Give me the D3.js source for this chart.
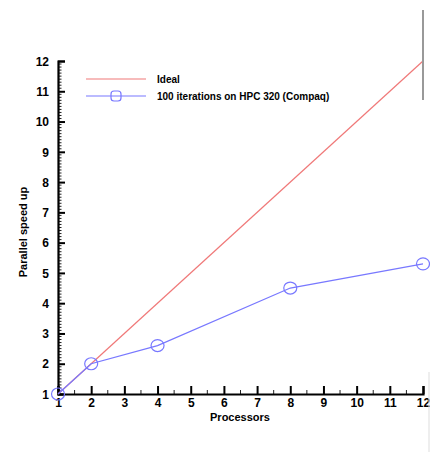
<!DOCTYPE html>
<html>
<head>
<meta charset="utf-8">
<script src="https://cdn.jsdelivr.net/npm/d3@7"></script>
<style>
  html, body { margin: 0; padding: 0; background: #fff; }
  svg { display: block; font-family: "Liberation Sans", Arial, sans-serif; }
</style>
</head>
<body>
<svg id="chart" width="430" height="452"></svg>
<script>
// Speed-up measurements
const processors = [1, 2, 4, 8, 12];
const speedup = [1, 2, 2.6, 4.5, 5.3];
const idealX = [1, 12];
const idealY = [1, 12];
const xTicks = [1, 2, 3, 4, 5, 6, 7, 8, 9, 10, 11, 12];
const yTicks = [1, 2, 3, 4, 5, 6, 7, 8, 9, 10, 11, 12];
const seriesNames = ["Ideal", "100 iterations on HPC 320 (Compaq)"];

const svg = d3.select("#chart");
const x = d3.scaleLinear().domain([1, 12]).range([58, 423]);
const y = d3.scaleLinear().domain([1, 12]).range([394, 61]);

const red = "#f07878";
const blue = "#7878ff";

// Minor ticks
const yMinor = d3.range(1, 12.001, 0.1).filter(v => Math.abs(v - Math.round(v)) > 1e-6);
const xMinor = d3.range(1.5, 12, 1);

svg.append("g").selectAll("line").data(yMinor).join("line")
  .attr("x1", x(1)).attr("x2", x(1) + 3.5)
  .attr("y1", d => y(d)).attr("y2", d => y(d))
  .attr("stroke", "#222").attr("stroke-width", 1);
svg.append("g").selectAll("line").data(xMinor).join("line")
  .attr("x1", d => x(d)).attr("x2", d => x(d))
  .attr("y1", y(1)).attr("y2", y(1) - 4)
  .attr("stroke", "#222").attr("stroke-width", 1);

// Major ticks via axes (drawn inward)
const yAxis = svg.append("g").attr("transform", `translate(${x(1)},0)`)
  .call(d3.axisLeft(y).tickValues(yTicks).tickSize(-7).tickPadding(9).tickFormat(d3.format("d")));
const xAxis = svg.append("g").attr("transform", `translate(0,${y(1)})`)
  .call(d3.axisBottom(x).tickValues(xTicks).tickSize(-8).tickPadding(13).tickFormat(d3.format("d")));

[yAxis, xAxis].forEach(g => {
  g.select(".domain").attr("stroke", "#000").attr("stroke-width", 2.2);
  g.selectAll(".tick line").attr("stroke", "#000").attr("stroke-width", 2);
  g.selectAll(".tick text").attr("fill", "#000")
    .attr("font-size", 12).attr("font-weight", "bold")
    .attr("font-family", "'Liberation Sans', Arial, sans-serif");
});
yAxis.selectAll(".tick text").attr("dy", "0.35em");
xAxis.selectAll(".tick text").attr("dy", "0");

// Axis titles
svg.append("text").attr("x", 240).attr("y", 421)
  .attr("text-anchor", "middle").attr("font-size", 11).attr("font-weight", "bold")
  .text("Processors");
svg.append("text").attr("transform", "translate(27,232) rotate(-90)")
  .attr("text-anchor", "middle").attr("font-size", 11).attr("font-weight", "bold")
  .text("Parallel speed up");

// Ideal line
const line = d3.line().x(d => x(d[0])).y(d => y(d[1]));
svg.append("path").datum(d3.zip(idealX, idealY)).attr("d", line)
  .attr("fill", "none").attr("stroke", red).attr("stroke-width", 1.2);

// Measured series
const pts = d3.zip(processors, speedup);
svg.append("path").datum(pts).attr("d", line)
  .attr("fill", "none").attr("stroke", blue).attr("stroke-width", 1.2);
svg.append("g").selectAll("ellipse").data(pts).join("ellipse")
  .attr("cx", d => x(d[0])).attr("cy", d => y(d[1]))
  .attr("rx", 6.5).attr("ry", 6)
  .attr("fill", "none").attr("stroke", blue).attr("stroke-width", 1.2);

// Legend
const legend = svg.append("g");
const rows = [{ name: seriesNames[0], color: red, marker: false, yy: 79 },
              { name: seriesNames[1], color: blue, marker: true, yy: 96 }];
rows.forEach(r => {
  legend.append("line").attr("x1", 86).attr("x2", 146).attr("y1", r.yy).attr("y2", r.yy)
    .attr("stroke", r.color).attr("stroke-width", 1.2);
  if (r.marker) {
    legend.append("rect").attr("x", 111).attr("y", r.yy - 5).attr("width", 10).attr("height", 10)
      .attr("rx", 3).attr("fill", "none").attr("stroke", r.color).attr("stroke-width", 1.2);
  }
  legend.append("text").attr("x", 157).attr("y", r.yy + 4)
    .attr("font-size", 10).attr("font-weight", "bold").text(r.name);
});

// Frame edge on the right
svg.append("line").attr("x1", 423).attr("x2", 423).attr("y1", 10).attr("y2", 100)
  .attr("stroke", "#999").attr("stroke-width", 2);
svg.append("line").attr("x1", 429).attr("x2", 429).attr("y1", 372).attr("y2", 452)
  .attr("stroke", "#ddd").attr("stroke-width", 1);
</script>
</body>
</html>
